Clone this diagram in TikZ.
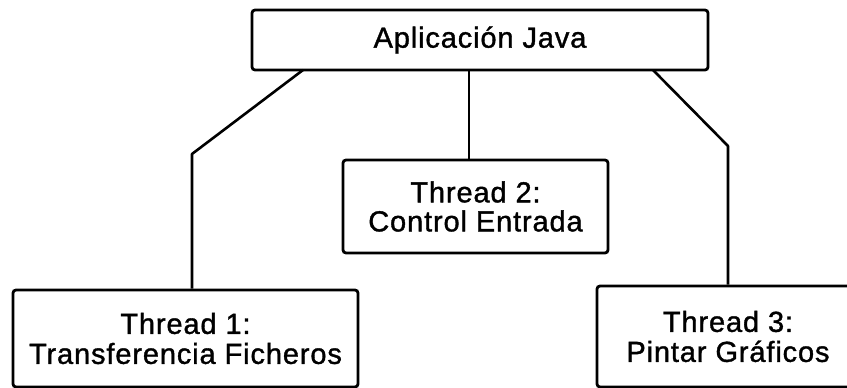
\documentclass[tikz,border=0pt]{standalone}
\usepackage{fontspec}
\setmainfont{Liberation Sans}[LetterSpace=3,FakeBold=1.2]
\begin{document}
\begin{tikzpicture}[x=1pt,y=-1pt,
  box/.style={draw=black,line width=2.8pt,rounded corners=3pt,inner sep=0pt,align=center,
    font=\fontsize{29}{30}\selectfont},
  conn/.style={draw=black,line width=2.6pt,line join=round}]
\useasboundingbox (0,0) rectangle (847,388);
\clip (0,0) rectangle (847,388);
\node[box,minimum width=456pt,minimum height=60pt] (app) at (480,40) {Aplicación Java};
\node[box,minimum width=265pt,minimum height=93pt] (t2) at (475.5,206.5) {Thread 2:\\[-1pt]Control Entrada};
\node[box,minimum width=345pt,minimum height=97pt] (t1) at (185.5,338.5) {Thread 1:\\Transferencia Ficheros};
\node[box,minimum width=262pt,minimum height=101pt] (t3) at (728,336.5) {Thread 3:\\Pintar Gráficos};
\coordinate (l0) at (303,70);
\coordinate (lb) at (192,154);
\coordinate (m0) at (469,70);
\coordinate (r0) at (653,70);
\coordinate (rb) at (728,146);
\draw[conn] (l0) -- (lb) -- (t1.north -| lb);
\draw[conn] (m0) -- (t2.north -| m0);
\draw[conn] (r0) -- (rb) -- (t3.north -| rb);
\end{tikzpicture}
\end{document}
